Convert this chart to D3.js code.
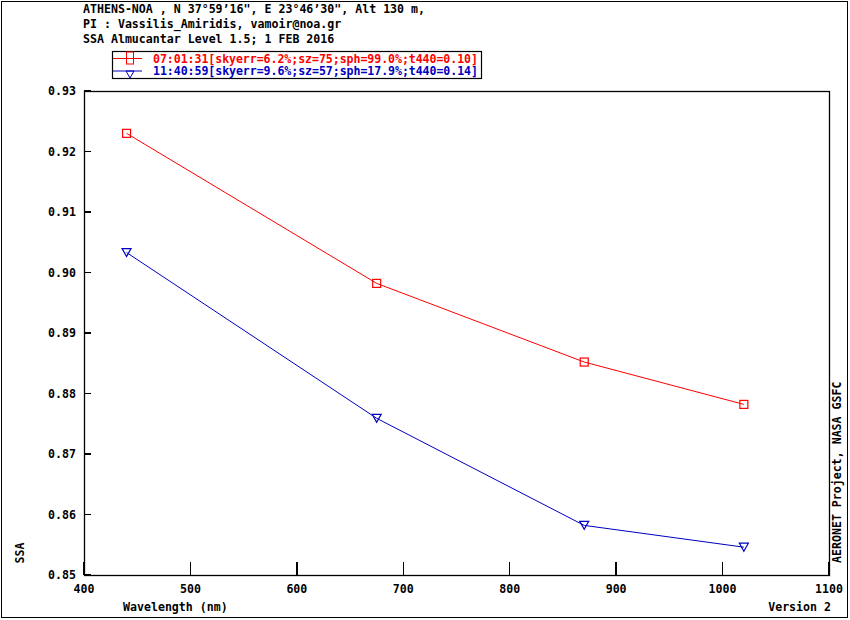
<!DOCTYPE html>
<html><head><meta charset="utf-8">
<script src="https://cdn.jsdelivr.net/npm/d3@7"></script>
<style>
body{margin:0;background:#fff;}
text{font-family:"DejaVu Sans Mono",monospace;font-weight:bold;font-size:11.6px;}
</style></head><body>
<svg id="c" width="850" height="620"></svg>
<script>
const wavelengths = [440, 675, 870, 1020];
const ssaMorning = [0.9230, 0.8982, 0.8852, 0.8782];
const ssaNoon = [0.9033, 0.8759, 0.8582, 0.8546];
const seriesLabels = ["07:01:31[skyerr=6.2%;sz=75;sph=99.0%;t440=0.10]",
                      "11:40:59[skyerr=9.6%;sz=57;sph=17.9%;t440=0.14]"];
const seriesColors = ["#ff0000", "#0000c0"];
const xTicks = [400, 500, 600, 700, 800, 900, 1000, 1100];
const yTicks = [0.85, 0.86, 0.87, 0.88, 0.89, 0.90, 0.91, 0.92, 0.93];
const headerLines = ["ATHENS-NOA , N 37°59\u201916\", E 23°46\u201930\", Alt 130 m,",
                     "PI : Vassilis_Amiridis, vamoir@noa.gr",
                     "SSA Almucantar Level 1.5; 1 FEB 2016"];

const svg = d3.select("#c");
const L = 84, R = 829, T = 91, B = 575;
const x = d3.scaleLinear().domain([400, 1100]).range([L, R]);
const y = d3.scaleLinear().domain([0.85, 0.93]).range([B, T]);

// outer frame
svg.append("rect").attr("x", 1.5).attr("y", 1.5).attr("width", 846).attr("height", 616)
  .attr("fill", "none").attr("stroke", "#000").attr("stroke-width", 1);

// header
headerLines.forEach((t, i) => svg.append("text").attr("x", 83).attr("y", 13 + i * 15).text(t));

// plot frame
svg.append("rect").attr("x", L + 0.5).attr("y", T + 0.5).attr("width", R - L).attr("height", B - T)
  .attr("fill", "none").attr("stroke", "#000").attr("stroke-width", 1.3);

// ticks
const g = svg.append("g").attr("shape-rendering", "crispEdges");
xTicks.forEach(v => {
  g.append("line").attr("x1", x(v)).attr("x2", x(v)).attr("y1", B).attr("y2", B - 13).attr("stroke", "#000").attr("stroke-width", 1.3);
  svg.append("text").attr("x", x(v)).attr("y", 593).attr("text-anchor", "middle").text(d3.format("d")(v));
});
yTicks.forEach(v => {
  g.append("line").attr("x1", L).attr("x2", L + 7).attr("y1", y(v)).attr("y2", y(v)).attr("stroke", "#000").attr("stroke-width", 1.3);
  svg.append("text").attr("x", 76).attr("y", y(v) + 4).attr("text-anchor", "end").text(d3.format(".2f")(v));
});

// axis labels
svg.append("text").attr("x", 123).attr("y", 611).text("Wavelength (nm)");
svg.append("text").attr("x", 831).attr("y", 611).attr("text-anchor", "end").text("Version 2");
svg.append("text").attr("transform", "translate(24,553) rotate(-90)").attr("text-anchor", "middle").text("SSA");
svg.append("text").attr("transform", "translate(841,563) rotate(-90)").attr("text-anchor", "start").text("AERONET Project, NASA GSFC");

// series
const series = [ssaMorning, ssaNoon];
const line = d3.line().x(d => x(d[0])).y(d => y(d[1]));
const sq = 8, tri = 9;
function marker(sel, i, cx, cy) {
  if (i === 0) {
    sel.append("rect").attr("x", cx - sq / 2).attr("y", cy - sq / 2).attr("width", sq).attr("height", sq)
      .attr("fill", "none").attr("stroke", seriesColors[i]).attr("stroke-width", 1.2);
  } else {
    sel.append("path").attr("d", `M${cx - tri / 2},${cy - 4}L${cx + tri / 2},${cy - 4}L${cx},${cy + 4}Z`)
      .attr("fill", "none").attr("stroke", seriesColors[i]).attr("stroke-width", 1.2);
  }
}
series.forEach((vals, i) => {
  const pts = wavelengths.map((w, j) => [w, vals[j]]);
  svg.append("path").attr("d", line(pts)).attr("fill", "none").attr("stroke", seriesColors[i]).attr("stroke-width", 1);
  pts.forEach(p => marker(svg, i, x(p[0]), y(p[1])));
});

// legend
svg.append("rect").attr("x", 112.5).attr("y", 51.5).attr("width", 369).attr("height", 27)
  .attr("fill", "#fff").attr("stroke", "#000").attr("stroke-width", 1.2);
seriesLabels.forEach((t, i) => {
  const ly = 58.5 + i * 12.5;
  svg.append("line").attr("x1", 113).attr("x2", 142).attr("y1", ly).attr("y2", ly).attr("stroke", seriesColors[i]).attr("stroke-width", 1);
  if (i === 0) {
    svg.append("rect").attr("x", 126.5).attr("y", 52).attr("width", 7).attr("height", 12).attr("fill", "none").attr("stroke", seriesColors[i]);
  } else {
    svg.append("path").attr("d", `M126,${ly}L134,${ly}L130,${ly + 7}Z`).attr("fill", "none").attr("stroke", seriesColors[i]);
  }
  svg.append("text").attr("x", 153).attr("y", ly + 4).attr("fill", seriesColors[i]).attr("font-size", "10.6px")
    .attr("textLength", 325).attr("lengthAdjust", "spacing").text(t);
});
</script></body></html>
